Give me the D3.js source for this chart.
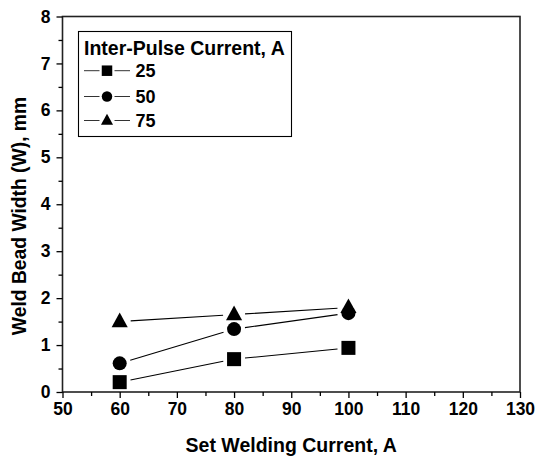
<!DOCTYPE html>
<html><head><meta charset="utf-8">
<script src="https://cdn.jsdelivr.net/npm/d3@7"></script>
<style>body{margin:0;background:#fff}svg{display:block}svg text{font-family:"Liberation Sans",Arial,sans-serif !important;font-weight:700 !important;fill:#000}</style>
</head><body><div id="chart"></div>
<script>
const currents = [60, 80, 100];
const series25 = [0.21, 0.70, 0.94];
const series50 = [0.61, 1.34, 1.68];
const series75 = [1.50, 1.65, 1.80];
const seriesNames = ["25", "50", "75"];
const markerShapes = ["square", "circle", "triangle"];
const xTicks = [50, 60, 70, 80, 90, 100, 110, 120, 130];
const yTicks = [0, 1, 2, 3, 4, 5, 6, 7, 8];
const xTitle = "Set Welding Current, A";
const yTitle = "Weld Bead Width (W), mm";
const legendTitle = "Inter-Pulse Current, A";

const W = 544, H = 456;
const L = 62.5, R = 520, T = 16.5, B = 392;
const svg = d3.select("#chart").append("svg").attr("width", W).attr("height", H);
const x = d3.scaleLinear().domain([50, 130]).range([L, R]);
const y = d3.scaleLinear().domain([0, 8]).range([B, T]);

// frame
svg.append("rect").attr("x", L).attr("y", T).attr("width", R - L).attr("height", B - T)
  .attr("fill", "none").attr("stroke", "#222").attr("stroke-width", 1.6);

// axes
const xAxis = svg.append("g").attr("transform", `translate(0,${B})`)
  .call(d3.axisBottom(x).tickValues(xTicks).tickFormat(d3.format("d")).tickSize(6).tickPadding(5));
const xMinor = svg.append("g").attr("transform", `translate(0,${B})`)
  .call(d3.axisBottom(x).tickValues(xTicks.slice(0, -1).map(v => v + 5)).tickFormat("").tickSize(4));
const yAxis = svg.append("g").attr("transform", `translate(${L},0)`)
  .call(d3.axisLeft(y).tickValues(yTicks).tickFormat(d3.format("d")).tickSize(6).tickPadding(6));
const yMinor = svg.append("g").attr("transform", `translate(${L},0)`)
  .call(d3.axisLeft(y).tickValues(yTicks.slice(0, -1).map(v => v + 0.5)).tickFormat("").tickSize(4));
[xAxis, xMinor, yAxis, yMinor].forEach(g => {
  g.select(".domain").remove();
  g.attr("font-family", '"Liberation Sans",Arial,sans-serif').attr("font-weight", "bold").attr("font-size", 17.5);
  g.selectAll("line").attr("stroke", "#000").attr("stroke-width", 1.3);
  g.selectAll("text").attr("font-weight", "bold").style("font-size", "17.5px").attr("fill", "#000");
});

// titles
svg.append("text").attr("x", (L + R) / 2).attr("y", 451.5).attr("text-anchor", "middle")
  .style("font-size", "19.5px").text(xTitle);
svg.append("text").attr("transform", "translate(25.5,216) rotate(-90)").attr("text-anchor", "middle")
  .style("font-size", "19.3px").text(yTitle);

function marker(g, shape, cx, cy, s) {
  if (shape === "square") {
    g.append("rect").attr("x", cx - s / 2).attr("y", cy - s / 2).attr("width", s).attr("height", s).attr("fill", "#000");
  } else if (shape === "circle") {
    g.append("circle").attr("cx", cx).attr("cy", cy).attr("r", s / 2).attr("fill", "#000");
  } else {
    const w = s * 1.15, h = s * 1.05;
    g.append("path").attr("d", `M${cx},${cy - h * 0.62}L${cx + w / 2},${cy + h * 0.38}L${cx - w / 2},${cy + h * 0.38}Z`).attr("fill", "#000");
  }
}

const allSeries = [series25, series50, series75];
const gap = 11;
allSeries.forEach((vals, i) => {
  const g = svg.append("g");
  const pts = currents.map((c, j) => [x(c), y(vals[j])]);
  for (let j = 0; j < pts.length - 1; j++) {
    const [x1, y1] = pts[j], [x2, y2] = pts[j + 1];
    const dx = x2 - x1, dy = y2 - y1, len = Math.hypot(dx, dy);
    const ux = dx / len, uy = dy / len;
    g.append("line").attr("x1", x1 + ux * gap).attr("y1", y1 + uy * gap)
      .attr("x2", x2 - ux * gap).attr("y2", y2 - uy * gap)
      .attr("stroke", "#000").attr("stroke-width", 1.1);
  }
  pts.forEach(p => marker(g, markerShapes[i], p[0], p[1], 14));
});

// legend
const lg = svg.append("g");
lg.append("rect").attr("x", 78.5).attr("y", 31.5).attr("width", 213).attr("height", 105)
  .attr("fill", "#fff").attr("stroke", "#000").attr("stroke-width", 1.1);
lg.append("text").attr("x", 84).attr("y", 54.5).style("font-size", "19.5px").text(legendTitle);
const rowY = [70.7, 96.5, 120.5];
seriesNames.forEach((n, i) => {
  const cy = rowY[i];
  lg.append("line").attr("x1", 84).attr("x2", 99.5).attr("y1", cy).attr("y2", cy).attr("stroke", "#333").attr("stroke-width", 1);
  lg.append("line").attr("x1", 114.5).attr("x2", 130).attr("y1", cy).attr("y2", cy).attr("stroke", "#333").attr("stroke-width", 1);
  marker(lg, markerShapes[i], 107, cy, 10.5);
  lg.append("text").attr("x", 135.5).attr("y", cy + 6.5).style("font-size", "18px").text(n);
});
</script></body></html>
